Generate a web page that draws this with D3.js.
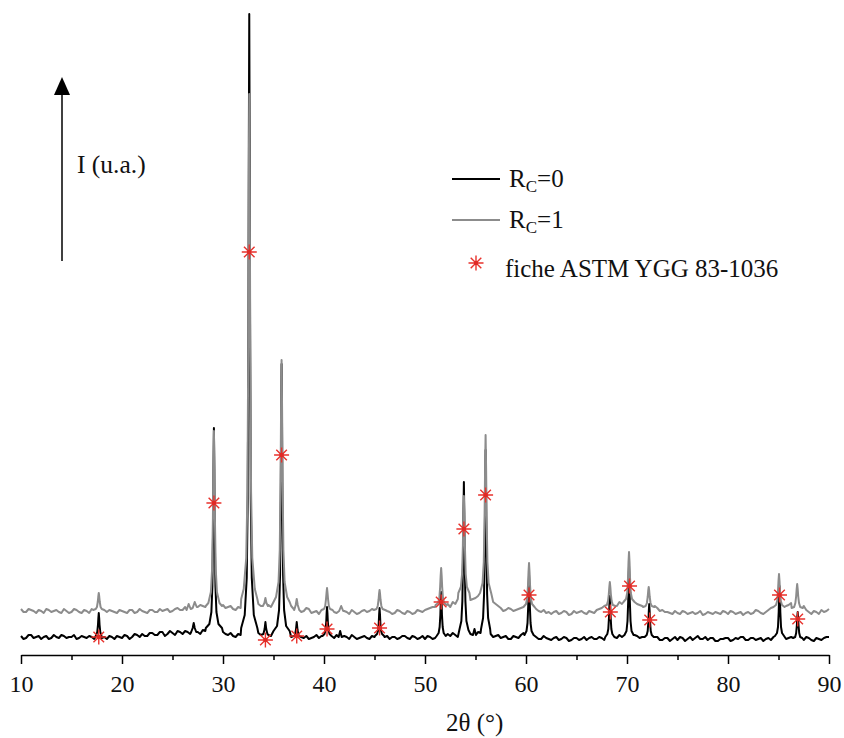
<!DOCTYPE html>
<html><head><meta charset="utf-8">
<script src="https://cdn.jsdelivr.net/npm/d3@7"></script>
<style>body{margin:0;background:#fff}svg{display:block}text{font-family:"Liberation Serif","Times New Roman",serif;fill:#111}</style>
</head><body><svg id="c" width="844" height="738"></svg>
<script>
// ---- data ----
const thetaStart = 10, thetaStep = 0.5;   // baseline sampling grid (2θ, °): values at 10, 10.5, ...
const baseRc0 = [
 18,16,19,17,15,18,16,17,19,16,
 17,15,18,16,17,17,16,15,17,18,
 16,18,17,19,20,18,21,19,22,20,
 21,23,20,22,21,22,24,22,26,30,
 22,19,18,20,20,22,26,21,21,19,
 20,24,26,19,18,16,16,15,17,16,
 17,20,16,18,18,15,17,16,18,15,
 17,18,17,15,17,16,18,15,17,16,
 15,17,16,18,22,18,19,19,24,20,
 19,21,24,20,18,16,18,15,17,19,
 18,22,17,15,16,14,17,15,16,14,
 16,15,14,17,15,16,18,20,16,17,
 20,22,18,17,18,15,17,14,16,15,
 14,16,15,14,18,15,14,16,13,15,
 16,14,15,17,14,16,15,13,16,17,
 20,18,16,18,15,14,16,13,15,16,
 17];
// values midway between grid points: 10.25, 10.75, ...
const midRc0 = [
 15,19,16,18,17,15,19,16,18,17,
 19,16,17,18,15,18,17,18,15,17,
 19,15,20,17,18,21,19,22,18,23,
 19,22,23,20,23,20,23,25,28,26,
 20,21,17,19,24,28,24,19,22,18,
 22,25,22,17,19,17,18,16,19,18,
 19,17,19,16,17,19,15,17,16,18,
 18,16,18,17,15,18,16,18,15,18,
 18,15,19,17,20,21,17,22,21,18,
 22,19,22,17,19,17,15,18,16,21,
 20,19,15,18,15,16,14,17,13,16,
 14,17,16,15,17,14,19,18,19,18,
 23,19,16,19,16,17,14,16,13,17,
 17,13,17,16,15,17,16,13,15,16,
 13,16,17,14,16,14,16,15,14,19,
 21,15,17,16,13,17,14,16,14,17];
const baseRc1 = [
 45,42,44,41,43,45,42,44,41,43,
 42,44,41,43,45,44,44,42,43,41,
 43,41,44,42,43,41,44,42,43,45,
 43,46,44,50,50,47,48,49,48,48,
 49,47,45,47,50,50,52,50,50,49,
 50,52,52,50,45,46,43,45,42,40,
 44,46,42,44,43,40,42,41,44,43,
 44,46,44,42,41,43,40,42,41,43,
 44,46,47,50,52,47,50,54,54,54,
 56,58,60,56,50,46,44,45,44,46,
 48,50,45,42,41,40,43,41,42,40,
 41,43,40,42,44,46,48,50,48,50,
 52,54,50,48,50,48,46,44,42,40,
 41,43,40,42,41,39,42,40,41,43,
 40,42,41,39,42,41,43,40,44,47,
 50,50,49,52,50,48,42,43,40,42,
 45];
const midRc1 = [
 42,45,43,44,41,44,43,42,45,41,
 45,42,44,41,44,46,43,44,42,44,
 42,44,41,45,42,44,42,45,44,42,
 45,44,47,49,48,49,47,50,49,52,
 46,48,44,46,52,51,52,48,51,47,
 54,50,51,48,44,42,46,41,43,42,
 46,44,41,43,42,44,40,43,42,45,
 46,45,43,40,44,41,43,40,44,42,
 45,47,49,48,50,52,55,53,57,55,
 58,60,58,52,48,43,46,43,45,47,
 52,47,43,44,42,42,40,43,39,43,
 42,41,43,41,45,47,50,46,52,49,
 55,52,49,51,47,48,43,42,41,43,
 40,42,41,40,43,40,41,42,40,42,
 43,40,42,41,40,44,41,42,46,49,
 51,48,51,49,47,44,40,42,44,43];
// diffraction peaks: [2θ, intensity] points
const peaksRc0 = [
 [[17.45,19],[17.55,22],[17.62,29],[17.66,36],[17.7,41],[17.74,36],[17.78,29],[17.85,22],[17.95,19]],
 [[26.85,22],[27.0,26],[27.1,31],[27.2,26],[27.35,22]],
 [[28.3,26],[28.65,30],[28.85,42],[28.95,68],[29.02,125],[29.06,186],[29.1,226],[29.14,186],[29.18,125],[29.25,68],[29.35,42],[29.55,30],[29.9,26]],
 [[31.8,26],[32.15,39],[32.35,76],[32.45,156],[32.52,330],[32.56,516],[32.6,640],[32.64,516],[32.68,330],[32.75,156],[32.85,76],[33.05,39],[33.4,26]],
 [[34.0,20],[34.12,25],[34.2,32],[34.28,25],[34.4,20]],
 [[35.0,23],[35.35,28],[35.55,44],[35.65,79],[35.72,155],[35.76,236],[35.8,290],[35.84,236],[35.88,155],[35.95,79],[36.05,44],[36.25,28],[36.6,23]],
 [[37.1,18],[37.22,24],[37.3,32],[37.38,24],[37.5,18]],
 [[39.85,18],[40.05,20],[40.15,24],[40.22,32],[40.26,41],[40.3,47],[40.34,41],[40.38,32],[40.45,24],[40.55,20],[40.75,18]],
 [[41.45,17],[41.6,23],[41.75,17]],
 [[45.05,18],[45.25,20],[45.35,23],[45.42,31],[45.46,40],[45.5,46],[45.54,40],[45.58,31],[45.65,23],[45.75,20],[45.95,18]],
 [[51.15,18],[51.35,21],[51.45,27],[51.52,39],[51.56,53],[51.6,62],[51.64,53],[51.68,39],[51.75,27],[51.85,21],[52.05,18]],
 [[53.4,24],[53.6,33],[53.7,53],[53.77,96],[53.81,141],[53.85,172],[53.89,141],[53.93,96],[54.0,53],[54.1,33],[54.3,24]],
 [[54.75,19],[54.9,25],[55.05,19]],
 [[55.55,25],[55.75,36],[55.85,60],[55.92,112],[55.96,167],[56.0,204],[56.04,167],[56.08,112],[56.15,60],[56.25,36],[56.45,25]],
 [[59.85,19],[60.05,23],[60.15,31],[60.22,48],[60.26,67],[60.3,79],[60.34,67],[60.38,48],[60.45,31],[60.55,23],[60.75,19]],
 [[67.85,17],[68.05,20],[68.15,25],[68.22,37],[68.26,50],[68.3,58],[68.34,50],[68.38,37],[68.45,25],[68.55,20],[68.75,17]],
 [[69.75,19],[69.95,23],[70.05,33],[70.12,53],[70.16,74],[70.2,88],[70.24,74],[70.28,53],[70.35,33],[70.45,23],[70.65,19]],
 [[71.75,17],[71.95,19],[72.05,23],[72.12,33],[72.16,43],[72.2,50],[72.24,43],[72.28,33],[72.35,23],[72.45,19],[72.65,17]],
 [[84.65,18],[84.85,21],[84.95,27],[85.02,42],[85.06,58],[85.1,68],[85.14,58],[85.18,42],[85.25,27],[85.35,21],[85.55,18]],
 [[86.45,16],[86.65,17],[86.75,21],[86.82,29],[86.86,37],[86.9,42],[86.94,37],[86.98,29],[87.05,21],[87.15,17],[87.35,16]]
];
const peaksRc1 = [
 [[17.15,44],[17.4,45],[17.52,47],[17.6,52],[17.65,57],[17.7,61],[17.75,57],[17.8,52],[17.88,47],[18.0,45],[18.25,44]],
 [[26.4,44],[26.6,50],[26.8,45]],
 [[27.0,46],[27.2,52],[27.4,47]],
 [[28.3,48],[28.55,51],[28.8,62],[28.92,85],[29.0,135],[29.05,188],[29.1,223],[29.15,188],[29.2,135],[29.28,85],[29.4,62],[29.65,51],[29.9,48]],
 [[31.8,55],[32.05,65],[32.3,96],[32.42,162],[32.5,305],[32.55,458],[32.6,560],[32.65,458],[32.7,305],[32.78,162],[32.9,96],[33.15,65],[33.4,55]],
 [[33.95,48],[34.1,51],[34.2,56],[34.3,51],[34.45,48]],
 [[35.0,52],[35.25,57],[35.5,72],[35.62,104],[35.7,172],[35.75,245],[35.8,294],[35.85,245],[35.9,172],[35.98,104],[36.1,72],[36.35,57],[36.6,52]],
 [[37.05,44],[37.2,49],[37.3,55],[37.4,49],[37.55,44]],
 [[39.75,44],[40.0,45],[40.12,48],[40.2,55],[40.25,61],[40.3,66],[40.35,61],[40.4,55],[40.48,48],[40.6,45],[40.85,44]],
 [[41.5,43],[41.7,48],[41.9,43]],
 [[44.95,44],[45.2,45],[45.32,48],[45.4,54],[45.45,60],[45.5,64],[45.55,60],[45.6,54],[45.68,48],[45.8,45],[46.05,44]],
 [[51.05,49],[51.3,51],[51.42,56],[51.5,67],[51.55,78],[51.6,86],[51.65,78],[51.7,67],[51.78,56],[51.9,51],[52.15,49]],
 [[53.3,61],[53.55,67],[53.67,80],[53.75,108],[53.8,138],[53.85,158],[53.9,138],[53.95,108],[54.03,80],[54.15,67],[54.4,61]],
 [[55.45,61],[55.7,71],[55.82,92],[55.9,138],[55.95,186],[56.0,219],[56.05,186],[56.1,138],[56.18,92],[56.3,71],[56.55,61]],
 [[59.75,47],[60.0,50],[60.12,56],[60.2,69],[60.25,82],[60.3,91],[60.35,82],[60.4,69],[60.48,56],[60.6,50],[60.85,47]],
 [[67.75,48],[68.0,49],[68.12,53],[68.2,60],[68.25,67],[68.3,72],[68.35,67],[68.4,60],[68.48,53],[68.6,49],[68.85,48]],
 [[69.65,52],[69.9,55],[70.02,61],[70.1,76],[70.15,92],[70.2,102],[70.25,92],[70.3,76],[70.38,61],[70.5,55],[70.75,52]],
 [[71.6,47],[71.85,48],[71.97,51],[72.05,57],[72.1,63],[72.15,67],[72.2,63],[72.25,57],[72.33,51],[72.45,48],[72.7,47]],
 [[84.5,47],[84.75,49],[84.87,53],[84.95,63],[85.0,73],[85.05,80],[85.1,73],[85.15,63],[85.23,53],[85.35,49],[85.6,47]],
 [[86.3,46],[86.55,47],[86.67,51],[86.75,58],[86.8,65],[86.85,70],[86.9,65],[86.95,58],[87.03,51],[87.15,47],[87.4,46]]
];
// ASTM YGG 83-1036 reference reflections, drawn where marked on the figure
const astmTheta = [17.7,29.1,32.6,34.2,35.8,37.3,40.3,45.5,51.6,53.85,56.0,60.3,68.35,70.25,72.25,85.1,86.9];
const astmI     = [17,151,402,14,199,18,25,26,52,125,159,59,42,68,34,59,35];
const xMajorTicks = [10,20,30,40,50,60,70,80,90];
const xMinorTicks = [15,25,35,45,55,65,75,85];
const seriesLabels = ["0","1"];
const astmLabel = "fiche ASTM YGG 83-1036";
const xTitle = "2θ (°)";
const yTitle = "I (u.a.)";

// ---- drawing ----
const svg = d3.select("#c");
const x = d3.scaleLinear().domain([10,90]).range([21,829]);
const y = d3.scaleLinear().domain([0,640]).range([654,14]);

function build(base, mid, peaks){
  let pts = base.map((v,i)=>[thetaStart+i*thetaStep, v])
    .concat(mid.map((v,i)=>[thetaStart+(i+0.5)*thetaStep, v]));
  peaks.forEach(pk=>{
    const a = pk[0][0], b = pk[pk.length-1][0];
    pts = pts.filter(p=>p[0]<a || p[0]>b).concat(pk);
  });
  return pts.sort((p,q)=>p[0]-q[0]);
}
const line = d3.line().x(d=>x(d[0])).y(d=>y(d[1]));

svg.append("path").datum(build(baseRc0,midRc0,peaksRc0)).attr("d",line)
  .attr("fill","none").attr("stroke","#000").attr("stroke-width",2).attr("stroke-linejoin","round");
svg.append("path").datum(build(baseRc1,midRc1,peaksRc1)).attr("d",line)
  .attr("fill","none").attr("stroke","#8c8c8c").attr("stroke-width",2).attr("stroke-linejoin","round");

function star(g, cx, cy, r){
  const a = r*0.707;
  g.append("path").attr("d",
    `M${cx},${cy-r}L${cx},${cy+r}M${cx-r},${cy}L${cx+r},${cy}M${cx-a},${cy-a}L${cx+a},${cy+a}M${cx-a},${cy+a}L${cx+a},${cy-a}`)
   .attr("stroke","#e8322c").attr("stroke-width",1.4).attr("fill","none");
  g.append("circle").attr("cx",cx).attr("cy",cy).attr("r",2.2).attr("fill","#e02a26");
}
const sg = svg.append("g");
astmTheta.forEach((t,i)=>star(sg, x(t), y(astmI[i]), 7.5));

// x axis
const axG = svg.append("g").attr("transform","translate(0,655)");
axG.call(d3.axisBottom(x).tickValues(xMajorTicks).tickSize(9).tickSizeOuter(0).tickPadding(11).tickFormat(d3.format("d")));
axG.select(".domain").attr("stroke","#000").attr("stroke-width",1.5);
axG.selectAll(".tick line").attr("stroke","#000").attr("stroke-width",1.5);
axG.selectAll(".tick text").attr("font-size",24).attr("font-family",'"Liberation Serif",serif').attr("fill","#111");
const axMin = svg.append("g").attr("transform","translate(0,655)");
axMin.call(d3.axisBottom(x).tickValues(xMinorTicks).tickSize(5).tickFormat(""));
axMin.select(".domain").remove();
axMin.selectAll(".tick line").attr("stroke","#000").attr("stroke-width",1.5);

svg.append("text").attr("x",446).attr("y",731).attr("font-size",25).text(xTitle);

// intensity arrow
svg.append("line").attr("x1",62).attr("x2",62).attr("y1",261).attr("y2",92).attr("stroke","#000").attr("stroke-width",1.5);
svg.append("path").attr("d","M62,77L54,95L70,95Z").attr("fill","#000");
svg.append("text").attr("x",77).attr("y",173).attr("font-size",25.5).text(yTitle);

// legend
const lg = svg.append("g");
const legRows = [{y:179,color:"#000"},{y:220,color:"#8c8c8c"}];
legRows.forEach((r,i)=>{
  lg.append("line").attr("x1",452).attr("x2",500).attr("y1",r.y).attr("y2",r.y).attr("stroke",r.color).attr("stroke-width",2);
  const t = lg.append("text").attr("x",509).attr("y",r.y+8).attr("font-size",25);
  t.append("tspan").text("R");
  t.append("tspan").attr("dy",5).attr("font-size",17).text("C");
  t.append("tspan").attr("dy",-5).text("="+seriesLabels[i]);
});
star(lg, 476, 263, 7.5);
lg.append("text").attr("x",505).attr("y",277).attr("font-size",25).text(astmLabel);
</script></body></html>
